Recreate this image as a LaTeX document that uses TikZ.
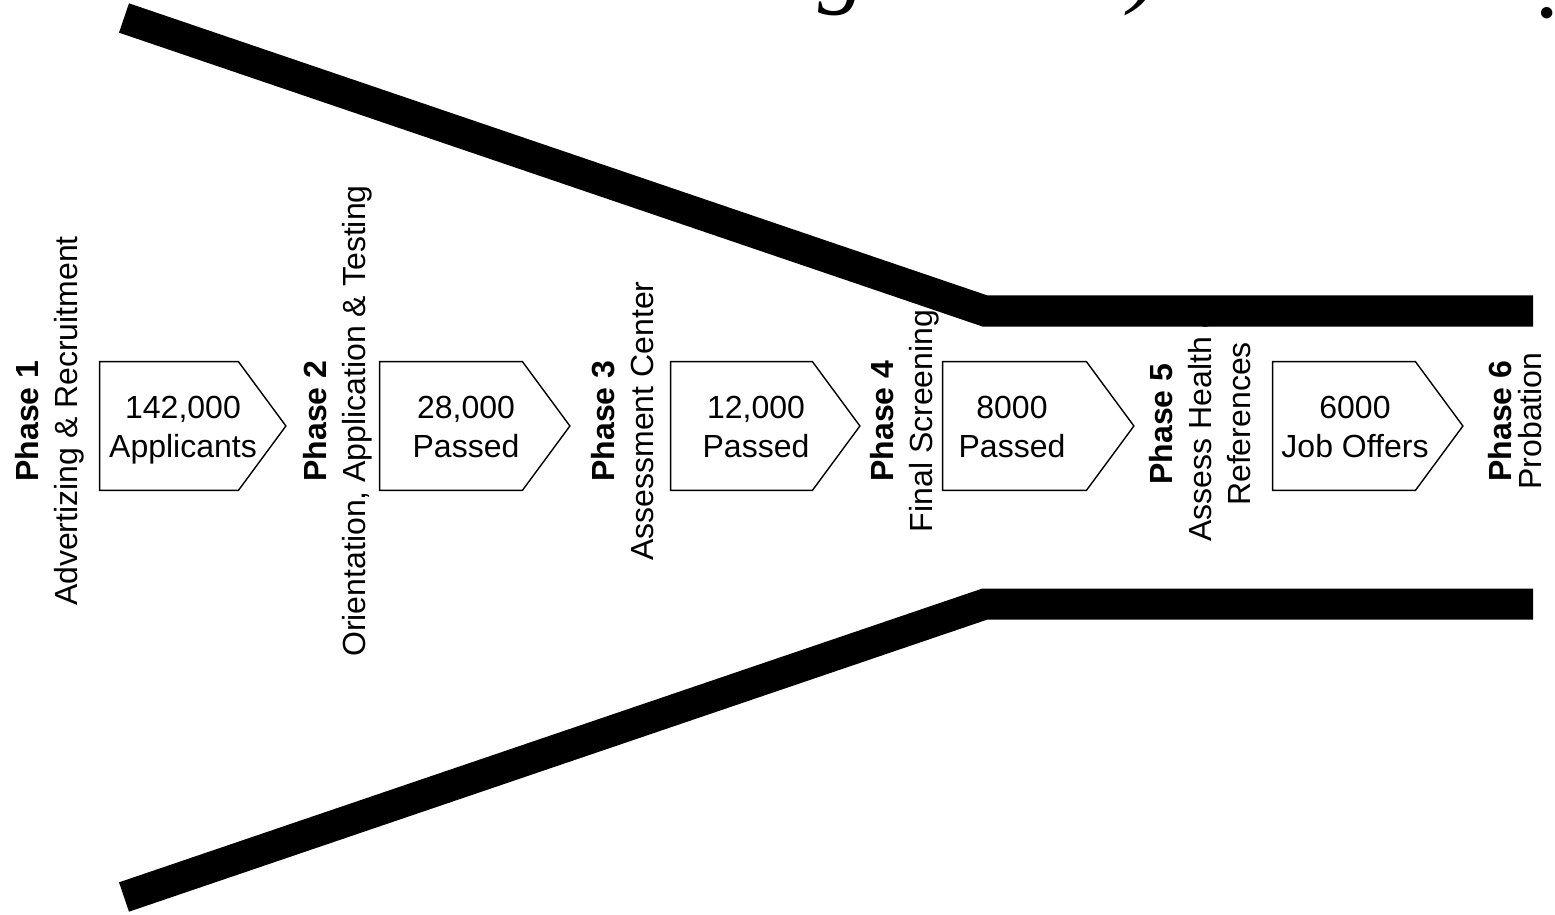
\documentclass[tikz,border=0pt]{standalone}
\usepackage{fontspec}
\setmainfont{Liberation Sans}
\newfontfamily\titlefont{Liberation Serif}
\usetikzlibrary{calc}

\begin{document}
\begin{tikzpicture}[x=0.5pt,y=-0.5pt]
\useasboundingbox (0,0) rectangle (1555,915);

\tikzset{
  phaselabel/.style={rotate=90, align=center, inner sep=0pt, text depth=0pt,
    font=\fontsize{16pt}{19.5pt}\selectfont},
  boxbody/.style={rectangle, inner sep=0pt, minimum height=64pt},
  boxline/.style={draw=black, line width=0.7pt, fill=white, line join=miter},
  boxtext/.style={align=center, inner sep=0pt, text depth=0pt,
    font=\fontsize{16pt}{19.5pt}\selectfont},
  funnelbar/.style={draw=black, line width=15.5pt, line cap=butt, line join=miter},
  titlefrag/.style={inner sep=0pt, font=\titlefont\itshape\fontsize{48pt}{48pt}\selectfont}
}

% title line, mostly above the page edge
\node[titlefrag, anchor=base] (tg) at (842,-4) {g};
\node[titlefrag, anchor=base] (tp) at (1145,-4) {)};
\node[titlefrag, anchor=base] (td) at (1549,18) {.};

% phase labels
\node[phaselabel] (p1) at (46,421) {\textbf{Phase 1}\\Advertizing \& Recruitment};
\node[phaselabel] (p2) at (334,421) {\textbf{Phase 2}\\Orientation, Application \& Testing};
\node[phaselabel] (p3) at (622,421) {\textbf{Phase 3}\\Assessment Center};
\node[phaselabel] (p4) at (901,421) {\textbf{Phase 4}\\Final Screening};
\node[phaselabel] (p5) at (1200,424) {\textbf{Phase 5}\\Assess Health \&\\References};
\node[phaselabel, font=\fontsize{16pt}{15pt}\selectfont] (p6) at (1515,421) {\textbf{Phase 6}\\Probation};

% stage boxes
\node[boxbody, minimum width=69pt] (b1) at (169,426) {};
\node[boxbody, minimum width=71pt] (b2) at (451,426) {};
\node[boxbody, minimum width=70.5pt] (b3) at (741.5,426) {};
\node[boxbody, minimum width=71.5pt] (b4) at (1014.5,426) {};
\node[boxbody, minimum width=71pt] (b5) at (1344,426) {};
\foreach \b in {b1,b2,b3,b4,b5}{
  \draw[boxline] (\b.north west) -- (\b.north east) -- ([xshift=23.75pt]\b.east)
    -- (\b.south east) -- (\b.south west) -- cycle;
}
\node[boxtext] (t1) at (183,427) {142,000\\Applicants};
\node[boxtext] (t2) at (466,427) {28,000\\Passed};
\node[boxtext] (t3) at (756,427) {12,000\\Passed};
\node[boxtext] (t4) at (1012,427) {8000\\Passed};
\node[boxtext] (t5) at (1355,427) {6000\\Job Offers};

% funnel walls
\coordinate (ua) at (124,18);
\coordinate (ub) at (985,311);
\coordinate (uc) at (1533,311);
\coordinate (la) at (124,897);
\coordinate (lb) at (985,604);
\coordinate (lc) at (1533,604);
\draw[funnelbar] (ua) -- (ub) -- (uc);
\draw[funnelbar] (la) -- (lb) -- (lc);
\end{tikzpicture}
\end{document}
